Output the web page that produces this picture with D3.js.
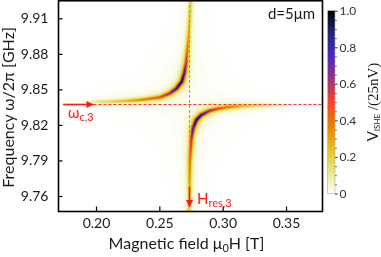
<!DOCTYPE html>
<html><head><meta charset="utf-8">
<script src="https://cdn.jsdelivr.net/npm/d3@7"></script>
<style>
body{margin:0;background:#fff;}
#wrap{position:relative;width:381px;height:257px;overflow:hidden;}
canvas,svg{position:absolute;left:0;top:0;}
text{font-family:Lato,"Open Sans",sans-serif;}
</style>
</head><body>
<div id="wrap"><canvas id="hm" width="381" height="257"></canvas><svg id="chart" width="381" height="257"></svg></div>
<script>
// ---------- data ----------
const xDomain = [0.1704, 0.3788];      // magnetic field [T]
const yDomain = [9.7469, 9.9248];      // frequency [GHz]
const xTicks = [0.20, 0.25, 0.30, 0.35];
const xTickLabels = ["0.20", "0.25", "0.30", "0.35"];
const yTicks = [9.76, 9.79, 9.82, 9.85, 9.88, 9.91];
const yTickLabels = ["9.76", "9.79", "9.82", "9.85", "9.88", "9.91"];
const cbTicks = [0, 0.2, 0.4, 0.6, 0.8, 1.0];
const cbTickLabels = ["0", "0.2", "0.4", "0.6", "0.8", "1.0"];
const cbMinorTicks = [0,0.05,0.1,0.15,0.2,0.25,0.3,0.35,0.4,0.45,0.5,0.55,0.6,0.65,0.7,0.75,0.8,0.85,0.9,0.95,1.0];
const omegaC = 9.838;    // cavity mode frequency [GHz]
const Hres = 0.2738;     // resonance field [T]
// upper hybrid branch (field, frequency, normalised V_ISHE)
const upperH = [0.1880, 0.2032, 0.2189, 0.2347, 0.2505, 0.2584, 0.2637, 0.2677, 0.2697, 0.2711, 0.2718, 0.2729, 0.2741, 0.2750];
const upperF = [9.8388, 9.8395, 9.8399, 9.8410, 9.8433, 9.8467, 9.8509, 9.8565, 9.8636, 9.8720, 9.8805, 9.8917, 9.9128, 9.9297];
const upperV = [0.00, 0.14, 0.24, 0.36, 0.50, 0.68, 0.92, 1.00, 0.88, 0.62, 0.46, 0.34, 0.24, 0.20];
// lower hybrid branch
const lowerH = [0.2734, 0.2738, 0.2741, 0.2752, 0.2766, 0.2792, 0.2831, 0.2898, 0.2977, 0.3082, 0.3216, 0.3374, 0.3560];
const lowerF = [9.7441, 9.7676, 9.7904, 9.8073, 9.8171, 9.8241, 9.8284, 9.8320, 9.8340, 9.8354, 9.8361, 9.8365, 9.8368];
const lowerV = [0.20, 0.30, 0.44, 0.60, 0.85, 1.00, 0.92, 0.66, 0.50, 0.36, 0.21, 0.10, 0.00];
// colour map stops (value 0 -> 1)
const cmapColors = ["#ffffff", "#e6e680", "#e6bf1a", "#e68000", "#ff4026", "#993380", "#4d26bf", "#262680", "#000000"];

// ---------- layout ----------
const plot = {x0: 58.5, x1: 322.5, y0: 0.75, y1: 211.5};
const cb = {x: 327.7, w: 7.3, y0: 10.7, y1: 193.5};
const lineW = 1.6; // Lorentzian half width in px

const x = d3.scaleLinear().domain(xDomain).range([plot.x0, plot.x1]);
const y = d3.scaleLinear().domain(yDomain).range([plot.y1, plot.y0]);
const color = d3.scaleLinear().domain(cmapColors.map((c, i) => i / (cmapColors.length - 1)))
  .range(cmapColors).interpolate(d3.interpolateRgb).clamp(true);

// ---------- heatmap on canvas ----------
const lut = d3.range(256).map(i => d3.rgb(color(i / 255)));
function segs(Hs, Fs, Vs) {
  const pts = Hs.map((h, i) => ({px: x(h), py: y(Fs[i]), v: Vs[i]}));
  return d3.pairs(pts).map(([a, b]) => {
    const dx = b.px - a.px, dy = b.py - a.py;
    return {ax: a.px, ay: a.py, dx, dy, L2: dx * dx + dy * dy, va: a.v, dv: b.v - a.v};
  });
}
const branches = [segs(upperH, upperF, upperV), segs(lowerH, lowerF, lowerV)];
const w2 = lineW * lineW;
function field(px, py) {
  let tot = 0;
  for (const S of branches) {
    let best = 0;
    for (const s of S) {
      let t = ((px - s.ax) * s.dx + (py - s.ay) * s.dy) / s.L2;
      t = t < 0 ? 0 : t > 1 ? 1 : t;
      const ex = px - (s.ax + t * s.dx), ey = py - (s.ay + t * s.dy);
      const val = (s.va + s.dv * t) / (1 + (ex * ex + ey * ey) / w2);
      if (val > best) best = val;
    }
    tot += best;
  }
  return Math.min(1, tot);
}
const canvas = document.getElementById("hm");
const ctx = canvas.getContext("2d");
const ix0 = Math.floor(plot.x0), ix1 = Math.ceil(plot.x1), iy0 = Math.floor(plot.y0), iy1 = Math.ceil(plot.y1);
const img = ctx.createImageData(ix1 - ix0, iy1 - iy0);
const sub = [0.25, 0.75];
for (let j = 0; j < iy1 - iy0; j++) {
  for (let i = 0; i < ix1 - ix0; i++) {
    let r = 0, g = 0, b = 0;
    for (const sx of sub) for (const sy of sub) {
      const c = lut[Math.round(field(ix0 + i + sx, iy0 + j + sy) * 255)];
      r += c.r; g += c.g; b += c.b;
    }
    const k = (j * (ix1 - ix0) + i) * 4;
    img.data[k] = r / 4; img.data[k + 1] = g / 4; img.data[k + 2] = b / 4; img.data[k + 3] = 255;
  }
}
ctx.putImageData(img, ix0, iy0);

// ---------- svg ----------
const svg = d3.select("#chart");
const defs = svg.append("defs");
const red = "#ff1a1a";
defs.append("marker").attr("id", "ah").attr("viewBox", "0 0 10 10").attr("refX", 10).attr("refY", 5)
  .attr("markerUnits", "userSpaceOnUse").attr("markerWidth", 9).attr("markerHeight", 7).attr("orient", "auto")
  .append("path").attr("d", "M0,0L10,5L0,10Z").attr("fill", red);

const yc = Math.round(y(omegaC)) + 0.5;
const xr = Math.round(x(Hres)) + 0.5;
// dashed guide lines
svg.append("line").attr("x1", x(0.1980)).attr("x2", plot.x1).attr("y1", yc).attr("y2", yc)
  .attr("stroke", "#ff3030").attr("stroke-width", 1).attr("stroke-dasharray", "3,2");
svg.append("line").attr("x1", xr).attr("x2", xr).attr("y1", 5).attr("y2", 188)
  .attr("stroke", "#ff7070").attr("stroke-width", 1).attr("stroke-dasharray", "3,2");
// arrows
svg.append("line").attr("x1", 63).attr("x2", x(0.1980)).attr("y1", yc).attr("y2", yc)
  .attr("stroke", red).attr("stroke-width", 1.6).attr("marker-end", "url(#ah)");
svg.append("line").attr("x1", xr).attr("x2", xr).attr("y1", 187).attr("y2", 207)
  .attr("stroke", red).attr("stroke-width", 1.6).attr("marker-end", "url(#ah)");

// labels for guides
const wl = svg.append("text").attr("x", 68).attr("y", 117.5).attr("fill", red).attr("font-size", 15);
wl.append("tspan").text("ω");
wl.append("tspan").attr("font-size", 11).attr("dy", 3).text("c,3");
const hl = svg.append("text").attr("x", 197).attr("y", 204).attr("fill", red).attr("font-size", 15);
hl.append("tspan").text("H");
hl.append("tspan").attr("font-size", 11).attr("dy", 3).text("res,3");

// axes
const gx = svg.append("g").attr("transform", `translate(0,${plot.y1})`)
  .call(d3.axisBottom(x).tickValues(xTicks).tickFormat((d, i) => xTickLabels[i]).tickSizeInner(-5).tickSizeOuter(0).tickPadding(7));
const gy = svg.append("g").attr("transform", `translate(${plot.x0},0)`)
  .call(d3.axisLeft(y).tickValues(yTicks).tickFormat((d, i) => yTickLabels[i]).tickSizeInner(-4).tickSizeOuter(0).tickPadding(10));
[gx, gy].forEach(g => {
  g.select(".domain").remove();
  g.selectAll(".tick line").attr("stroke", "#000").attr("stroke-width", 1.2);
  g.selectAll(".tick text").attr("font-family", "Lato").attr("font-size", 14).attr("fill", "#1a1a1a");
});
svg.append("rect").attr("x", plot.x0).attr("y", plot.y0).attr("width", plot.x1 - plot.x0).attr("height", plot.y1 - plot.y0)
  .attr("fill", "none").attr("stroke", "#000").attr("stroke-width", 1.6);

// axis titles
const xt = svg.append("text").attr("x", 186.5).attr("y", 249).attr("text-anchor", "middle").attr("font-size", 16).attr("fill", "#1a1a1a");
xt.append("tspan").text("Magnetic field μ");
xt.append("tspan").attr("font-size", 11).attr("dy", 3).text("0");
xt.append("tspan").attr("dy", -3).text("H [T]");
svg.append("text").attr("transform", "translate(14,107.5) rotate(-90)").attr("text-anchor", "middle")
  .attr("font-size", 16).attr("fill", "#1a1a1a").text("Frequency ω/2π [GHz]");
svg.append("text").attr("x", 315).attr("y", 18.5).attr("text-anchor", "end").attr("font-size", 15).attr("fill", "#1a1a1a").text("d=5μm");

// colorbar
const cy = d3.scaleLinear().domain([0, 1]).range([cb.y1, cb.y0]);
const grad = defs.append("linearGradient").attr("id", "cbg").attr("x1", 0).attr("y1", 1).attr("x2", 0).attr("y2", 0);
d3.range(0, 1.0001, 0.05).forEach(v => grad.append("stop").attr("offset", v).attr("stop-color", color(v)));
svg.append("rect").attr("x", cb.x).attr("y", cb.y0).attr("width", cb.w).attr("height", cb.y1 - cb.y0)
  .attr("fill", "url(#cbg)").attr("stroke", "#aaa").attr("stroke-width", 0.6);
const gcm = svg.append("g").attr("transform", `translate(${cb.x + cb.w},0)`)
  .call(d3.axisRight(cy).tickValues(cbMinorTicks).tickFormat("").tickSizeInner(2).tickSizeOuter(0));
const gc = svg.append("g").attr("transform", `translate(${cb.x + cb.w},0)`)
  .call(d3.axisRight(cy).tickValues(cbTicks).tickFormat((d, i) => cbTickLabels[i]).tickSizeInner(3).tickSizeOuter(0).tickPadding(1.5));
[gcm, gc].forEach(g => { g.select(".domain").remove(); g.selectAll(".tick line").attr("stroke", "#555").attr("stroke-width", 0.8); });
gc.selectAll(".tick text").attr("font-family", "Lato").attr("font-size", 12).attr("fill", "#333");
const ct = svg.append("text").attr("transform", "translate(378,102) rotate(-90)").attr("text-anchor", "middle").attr("font-size", 15).attr("fill", "#1a1a1a");
ct.append("tspan").text("V");
ct.append("tspan").attr("font-size", 8).attr("dy", 2).text("ISHE");
ct.append("tspan").attr("dy", -2).attr("font-family", "Liberation Serif").text(" /(25nV)");
</script>
</body></html>
